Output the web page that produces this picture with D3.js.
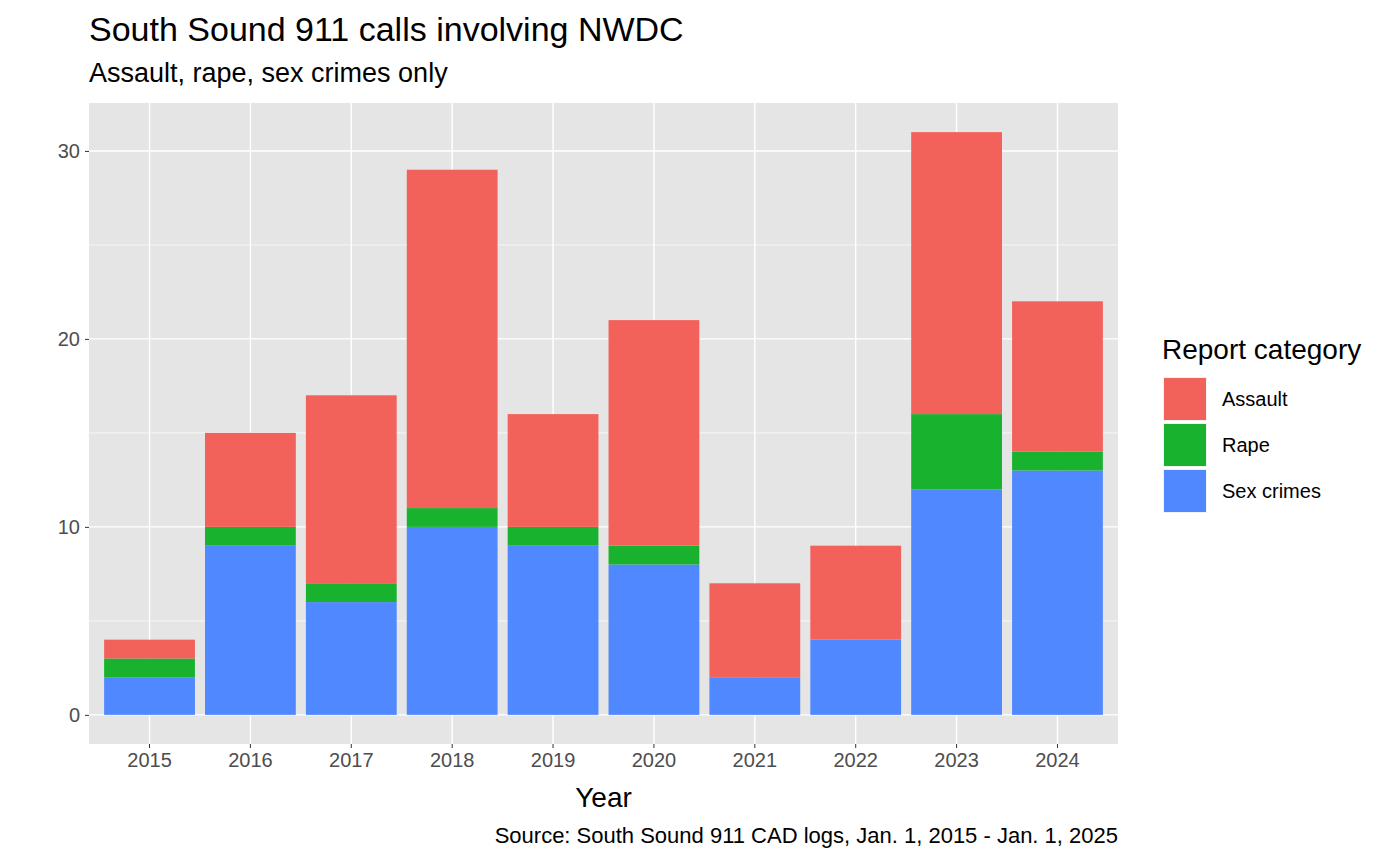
<!DOCTYPE html>
<html><head><meta charset="utf-8">
<script src="https://cdn.jsdelivr.net/npm/d3@7"></script>
<style>body{margin:0;background:#fff}text{font-family:Arial,"Liberation Sans",sans-serif}</style>
</head><body>
<svg id="c" width="1400" height="865"></svg>
<script>
const years=["2015","2016","2017","2018","2019","2020","2021","2022","2023","2024"];
const sexCrimes=[2,9,6,10,9,8,2,4,12,13];
const rape=[1,1,1,1,1,1,0,0,4,1];
const assault=[1,5,10,18,6,12,5,5,15,8];
const categories=["Assault","Rape","Sex crimes"];
const colors={"Assault":"#F3615B","Rape":"#19B22F","Sex crimes":"#5088FF"};
const yTicks=[0,10,20,30];

const svg=d3.select("#c");
const L=89,R=1118,T=103,B=744;
const s=(R-L)/10.2;
const x=d3.scaleBand().domain(years).range([L+0.15*s,R-0.15*s]).paddingInner(0.1).paddingOuter(0);
const y=d3.scaleLinear().domain([-1.55,32.55]).range([B,T]);
svg.append("rect").attr("x",L).attr("y",T).attr("width",R-L).attr("height",B-T).attr("fill","#E5E5E5");
[5,15,25].forEach(v=>svg.append("line").attr("x1",L).attr("x2",R).attr("y1",y(v)).attr("y2",y(v)).attr("stroke","#fff").attr("stroke-width",0.7));
yTicks.forEach(v=>svg.append("line").attr("x1",L).attr("x2",R).attr("y1",y(v)).attr("y2",y(v)).attr("stroke","#fff").attr("stroke-width",1.4));
years.forEach(yr=>{const cx=x(yr)+x.bandwidth()/2;svg.append("line").attr("x1",cx).attr("x2",cx).attr("y1",T).attr("y2",B).attr("stroke","#fff").attr("stroke-width",1.4);});
const rows=years.map((yr,i)=>({year:yr,"Sex crimes":sexCrimes[i],"Rape":rape[i],"Assault":assault[i]}));
const stack=d3.stack().keys(["Sex crimes","Rape","Assault"])(rows);
stack.forEach(st=>{svg.append("g").selectAll("rect").data(st).join("rect")
 .attr("x",d=>x(d.data.year)).attr("width",x.bandwidth())
 .attr("y",d=>y(d[1])).attr("height",d=>y(d[0])-y(d[1])).attr("fill",colors[st.key]);});
const ya=svg.append("g").attr("transform",`translate(${L},0)`).call(d3.axisLeft(y).tickValues(yTicks).tickSize(4).tickPadding(5));
const xa=svg.append("g").attr("transform",`translate(0,${B})`).call(d3.axisBottom(x).tickSize(4).tickPadding(5));
[ya,xa].forEach(a=>{a.select(".domain").remove();a.selectAll("line").attr("stroke","#333");a.selectAll("text").attr("fill","#4D4D4D").style("font-size","20px");});
svg.append("text").attr("x",(L+R)/2).attr("y",807).attr("text-anchor","middle").style("font-size","28px").text("Year");
svg.append("text").attr("x",89).attr("y",41).style("font-size","34px").text("South Sound 911 calls involving NWDC");
svg.append("text").attr("x",89).attr("y",82).style("font-size","27px").text("Assault, rape, sex crimes only");
svg.append("text").attr("x",R).attr("y",843).attr("text-anchor","end").style("font-size","22px").text("Source: South Sound 911 CAD logs, Jan. 1, 2015 - Jan. 1, 2025");
svg.append("text").attr("x",1162).attr("y",359).style("font-size","28px").text("Report category");
categories.forEach((c,i)=>{const yy=377+i*46;
 svg.append("rect").attr("x",1163).attr("y",yy).attr("width",44).attr("height",44).attr("fill","#F2F2F2");
 svg.append("rect").attr("x",1164).attr("y",yy+1).attr("width",42).attr("height",42).attr("fill",colors[c]);
 svg.append("text").attr("x",1222).attr("y",yy+29).style("font-size","20px").text(c);});
</script></body></html>
